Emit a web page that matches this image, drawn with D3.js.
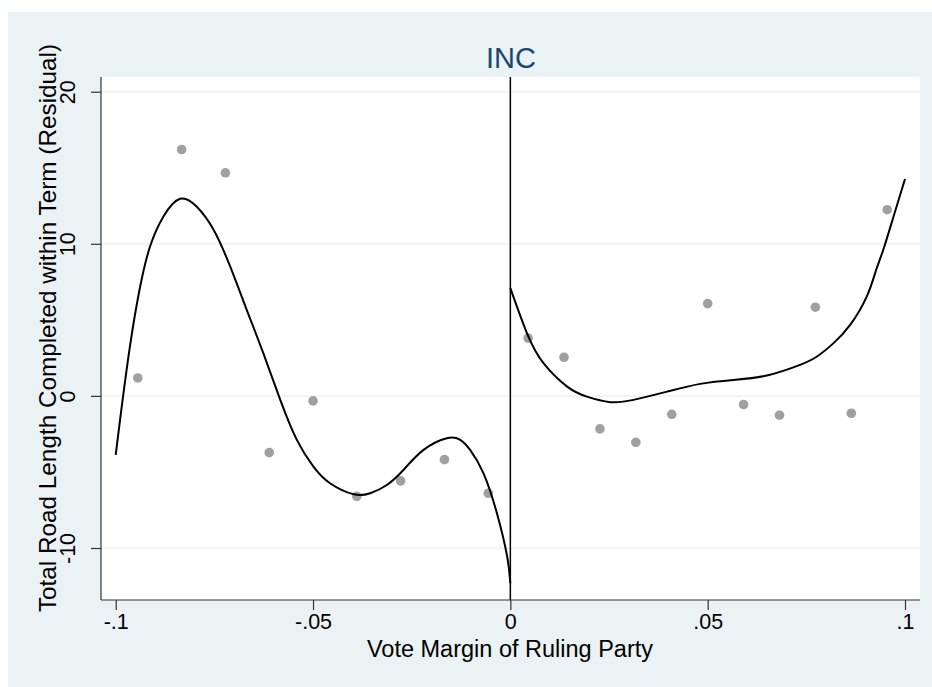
<!DOCTYPE html>
<html><head><meta charset="utf-8">
<script src="https://cdn.jsdelivr.net/npm/d3@7"></script>
<style>body{margin:0;background:#fff;}svg{display:block;font-family:"Liberation Sans",Arial,Helvetica,sans-serif;}</style>
</head><body>
<svg id="c" width="932" height="687"></svg>
<script>
const title = "INC";
const xLabel = "Vote Margin of Ruling Party";
const yLabel = "Total Road Length Completed within Term (Residual)";
const xTicks = [-0.1, -0.05, 0, 0.05, 0.1];
const xTickLabels = ["-.1", "-.05", "0", ".05", ".1"];
const yTicks = [-10, 0, 10, 20];
const yTickLabels = ["-10", "0", "10", "20"];

// binned scatter points
const pointX = [-0.0944, -0.0833, -0.0722, -0.0611, -0.05, -0.0389, -0.0278, -0.0167, -0.0056,
                0.0045, 0.0136, 0.0227, 0.0318, 0.0409, 0.05, 0.0591, 0.0682, 0.0773, 0.0864, 0.0955];
const pointY = [1.18, 16.2, 14.67, -3.73, -0.33, -6.6, -5.59, -4.19, -6.4,
                3.8, 2.54, -2.17, -3.05, -1.21, 6.07, -0.57, -1.27, 5.83, -1.14, 12.24];

// fitted curve, left of cutoff
const leftFitX = [-0.1, -0.0989, -0.0964, -0.0938, -0.0913, -0.0879, -0.0837, -0.0795, -0.0752, -0.071,
                  -0.0668, -0.0626, -0.0583, -0.0541, -0.0499, -0.0457, -0.0397, -0.0355, -0.0313, -0.0271,
                  -0.022, -0.0161, -0.0127, -0.0102, -0.0068, -0.0034, -0.0008, 0];
const leftFitY = [-3.88, -1.58, 3.24, 7.19, 9.82, 11.8, 12.96, 12.45, 10.92, 8.51,
                  5.66, 2.81, -0.26, -2.89, -4.65, -5.74, -6.47, -6.4, -5.86, -4.87,
                  -3.55, -2.78, -2.89, -3.55, -5.09, -7.72, -10.57, -12.32];
// fitted curve, right of cutoff
const rightFitX = [0, 0.0042, 0.0084, 0.0144, 0.0194, 0.0253, 0.0312, 0.0397, 0.0481, 0.0565,
                   0.065, 0.0734, 0.0777, 0.0819, 0.0861, 0.0903, 0.0927, 0.0945, 0.0971, 0.1];
const rightFitY = [7.09, 4.13, 2.15, 0.61, -0.05, -0.41, -0.26, 0.28, 0.79, 1.05,
                   1.34, 2.04, 2.59, 3.47, 4.67, 6.53, 8.29, 9.61, 11.8, 14.26];

const W = 932, H = 687;
const plot = {l: 101, r: 920, t: 77, b: 600};
const svg = d3.select("#c");

svg.append("rect").attr("x", 8).attr("y", 12).attr("width", W - 8).attr("height", H - 12).attr("fill", "#eaf2f3");
svg.append("rect").attr("x", plot.l).attr("y", plot.t).attr("width", plot.r - plot.l).attr("height", plot.b - plot.t).attr("fill", "#fff");

const x = d3.scaleLinear().domain([-0.1, 0.1]).range([115.7, 905]);
const y = d3.scaleLinear().domain([-10, 20]).range([548, 91.7]);

// gridlines
svg.append("g").selectAll("line").data(yTicks).join("line")
  .attr("x1", plot.l).attr("x2", plot.r)
  .attr("y1", d => y(d)).attr("y2", d => y(d))
  .attr("stroke", "#eaf2f3").attr("stroke-width", 1.5);

// axes
const xAxis = d3.axisBottom(x).tickValues(xTicks).tickFormat((d, i) => xTickLabels[i]).tickSize(10).tickPadding(4);
const gx = svg.append("g").attr("transform", `translate(0,${plot.b})`).call(xAxis);
gx.select(".domain").attr("d", `M${plot.l},0H${plot.r}`).attr("stroke", "#333").attr("stroke-width", 1.2);
gx.selectAll(".tick line").attr("stroke", "#333").attr("stroke-width", 1.2);
gx.selectAll(".tick text").attr("font-size", 21.5).attr("fill", "#000").attr("font-family", "Liberation Sans, Arial, sans-serif").attr("dy", "0.71em");

const yAxis = d3.axisLeft(y).tickValues(yTicks).tickFormat((d, i) => yTickLabels[i]).tickSize(10).tickPadding(4);
const gy = svg.append("g").attr("transform", `translate(${plot.l},0)`).call(yAxis);
gy.select(".domain").attr("d", `M0,${plot.t}V${plot.b}`).attr("stroke", "#333").attr("stroke-width", 1.2);
gy.selectAll(".tick line").attr("stroke", "#333").attr("stroke-width", 1.2);
gy.selectAll(".tick text").attr("font-size", 21.5).attr("fill", "#000").attr("font-family", "Liberation Sans, Arial, sans-serif")
  .attr("text-anchor", "middle").attr("x", 0).attr("dy", 0)
  .attr("transform", "translate(-26,0) rotate(-90)");

// cutoff line
svg.append("line").attr("x1", x(0)).attr("x2", x(0)).attr("y1", plot.t).attr("y2", plot.b)
  .attr("stroke", "#000").attr("stroke-width", 1.5);

// points
const pts = pointX.map((v, i) => [v, pointY[i]]);
svg.append("g").selectAll("circle").data(pts).join("circle")
  .attr("cx", d => x(d[0])).attr("cy", d => y(d[1])).attr("r", 4.8).attr("fill", "#a0a0a0");

// fits
const line = d3.line().x(d => x(d[0])).y(d => y(d[1])).curve(d3.curveNatural);
svg.append("path").datum(leftFitX.map((v, i) => [v, leftFitY[i]])).attr("d", line)
  .attr("fill", "none").attr("stroke", "#000").attr("stroke-width", 2);
svg.append("path").datum(rightFitX.map((v, i) => [v, rightFitY[i]])).attr("d", line)
  .attr("fill", "none").attr("stroke", "#000").attr("stroke-width", 2);

// titles
svg.append("text").attr("x", 511).attr("y", 68).attr("text-anchor", "middle")
  .attr("font-size", 29).attr("fill", "#1a476f").text(title);
svg.append("text").attr("x", 510).attr("y", 657).attr("text-anchor", "middle")
  .attr("font-size", 23.5).attr("fill", "#000").text(xLabel);
svg.append("text").attr("transform", "translate(56,328) rotate(-90)").attr("text-anchor", "middle")
  .attr("font-size", 24.3).attr("fill", "#000").text(yLabel);
</script>
</body></html>
